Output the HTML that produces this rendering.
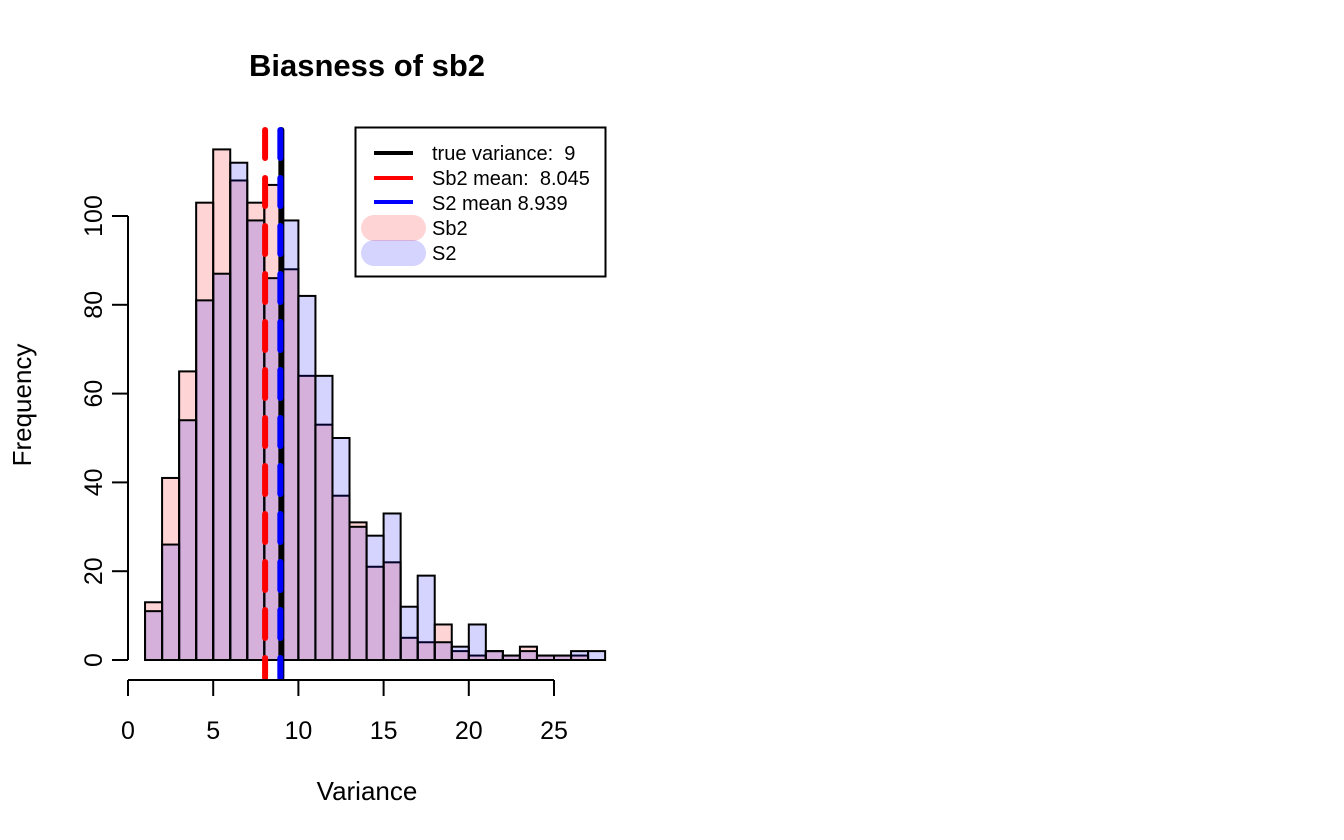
<!DOCTYPE html>
<html><head><meta charset="utf-8"><style>
body{margin:0;background:#fff}
svg{display:block;font-family:"Liberation Sans",Arial,sans-serif}
text{white-space:pre}
</style></head><body>
<svg id="chart" width="1344" height="840" viewBox="0 0 1344 840">
<rect width="1344" height="840" fill="#fff"/>
<text x="367" y="76" font-size="31" font-weight="bold" text-anchor="middle">Biasness of sb2</text>
<g id="bars"></g>
<g id="vlines"></g>
<g id="axes"></g>
<text x="367" y="800" font-size="26" text-anchor="middle">Variance</text>
<text transform="translate(31,405) rotate(-90)" font-size="26" text-anchor="middle">Frequency</text>
<g>
<rect x="355.5" y="127.5" width="250" height="149" fill="#fff" stroke="#000" stroke-width="2"/>
<line x1="374" y1="153" x2="413" y2="153" stroke="#000" stroke-width="4"/>
<line x1="374" y1="178" x2="413" y2="178" stroke="#f00" stroke-width="4"/>
<line x1="374" y1="202" x2="413" y2="202" stroke="#00f" stroke-width="4"/>
<rect x="361" y="215" width="65" height="26" rx="13" fill="rgba(255,0,0,0.17)"/>
<rect x="361" y="240" width="65" height="26" rx="13" fill="rgba(0,0,255,0.17)"/>
<text x="432" y="160" font-size="20" xml:space="preserve">true variance:  9</text>
<text x="432" y="185" font-size="20" xml:space="preserve">Sb2 mean:  8.045</text>
<text x="432" y="210" font-size="20">S2 mean 8.939</text>
<text x="432" y="235" font-size="20">Sb2</text>
<text x="432" y="260" font-size="20">S2</text>
</g>
</svg>
<script>
const binStart = 1;
const binWidth = 1;
const sb2Counts = [13,41,65,103,115,108,103,107,88,64,53,37,31,21,22,5,4,8,2,1,2,1,3,1,1,1,0];
const s2Counts  = [11,26,54,81,87,112,99,86,99,82,64,50,30,28,33,12,19,4,3,8,2,1,2,1,1,2,2];
const xTicks = [0,5,10,15,20,25];
const yTicks = [0,20,40,60,80,100];
const meanLines = [{v:9,c:'#000',dash:'none',name:'true-variance-line'},{v:8.045,c:'#f00',dash:'28 20',name:'sb2-mean-line'},{v:8.939,c:'#00f',dash:'28 20',name:'s2-mean-line'}];

const NS='http://www.w3.org/2000/svg';
const sx = v => 128 + v*(554-128)/25;
const sy = v => 660 - v*(660-216)/100;
function mk(tag, attrs, parent){const e=document.createElementNS(NS,tag);for(const k in attrs)e.setAttribute(k,attrs[k]);parent.appendChild(e);return e;}
const bars=document.getElementById('bars');
function drawSeries(counts, fill, nm){
  counts.forEach((c,i)=>{
    if(c<=0) return;
    const x0=sx(binStart+i*binWidth), x1=sx(binStart+(i+1)*binWidth);
    const r=mk('rect',{x:x0,y:sy(c),width:x1-x0,height:sy(0)-sy(c),fill:fill,stroke:'#000','stroke-width':2},bars);
    
    
  });
}
drawSeries(sb2Counts,'rgba(255,0,0,0.17)','sb2');
drawSeries(s2Counts,'rgba(0,0,255,0.17)','s2');
const vl=document.getElementById('vlines');
meanLines.forEach(m=>{
  const l=mk('line',{x1:sx(m.v),x2:sx(m.v),y1:130,y2:678,stroke:m.c,'stroke-width':6,'stroke-dasharray':m.dash,'stroke-linecap':'round'},vl);
  
  
});
const ax=document.getElementById('axes');
mk('line',{x1:sx(0),x2:sx(25),y1:680,y2:680,stroke:'#000','stroke-width':2},ax);
xTicks.forEach(t=>{
  mk('line',{x1:sx(t),x2:sx(t),y1:680,y2:696,stroke:'#000','stroke-width':2},ax);
  const tx=mk('text',{x:sx(t),y:739,'font-size':25,'text-anchor':'middle'},ax);
  tx.textContent=t;
  
  
});
mk('line',{x1:128,x2:128,y1:sy(0),y2:sy(100),stroke:'#000','stroke-width':2},ax);
yTicks.forEach(t=>{
  mk('line',{x1:112,x2:128,y1:sy(t),y2:sy(t),stroke:'#000','stroke-width':2},ax);
  const tx=mk('text',{transform:`translate(102,${sy(t)}) rotate(-90)`,'font-size':25,'text-anchor':'middle'},ax);
  tx.textContent=t;
  
  
});
</script>
</body></html>
